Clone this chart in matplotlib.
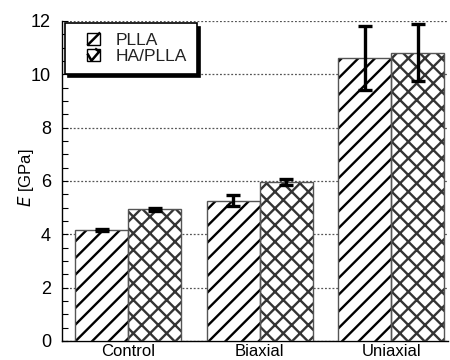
import matplotlib
matplotlib.use("Agg")
import matplotlib.pyplot as plt
from matplotlib.patches import Patch, Rectangle
from matplotlib.lines import Line2D
from matplotlib.legend_handler import HandlerBase
import numpy as np

categories = ["Control", "Biaxial", "Uniaxial"]
series_names = ["PLLA", "HA/PLLA"]
pla_values = [4.16, 5.26, 10.6]
pla_errors = [0.05, 0.20, 1.20]
ha_values = [4.94, 5.95, 10.81]
ha_errors = [0.06, 0.12, 1.07]
y_ticks = [0, 2, 4, 6, 8, 10, 12]

plt.rcParams["font.family"] = ["Liberation Sans", "DejaVu Sans"]
plt.rcParams["hatch.linewidth"] = 1.7


class HatchSquareHandler(HandlerBase):
    """Small square key with a few hatch strokes, right-aligned in its box."""

    def __init__(self, segments):
        super().__init__()
        self.segments = segments

    def create_artists(self, legend, orig_handle, xdescent, ydescent,
                       width, height, fontsize, trans):
        s = height * 1.05
        x0 = width - s - xdescent
        y0 = -ydescent + (height - s) / 2
        artists = [Rectangle((x0, y0), s, s, fill=False, edgecolor="black",
                             linewidth=1.0, transform=trans)]
        for seg in self.segments:
            xs = [x0 + s * px for px, _ in seg]
            ys = [y0 + s * py for _, py in seg]
            artists.append(Line2D(xs, ys, color="black", linewidth=1.8,
                                  solid_capstyle="butt", transform=trans))
        return artists


fig = plt.figure(figsize=(4.5, 3.6), dpi=100)
ax = fig.add_axes([0.138, 0.053, 0.858, 0.889])

x = np.arange(len(categories))
w = 0.403
offsets = [-w / 2, w / 2]
hatches = ["//", "xx"]
hatch_colors = ["black", "#333333"]
vals = [pla_values, ha_values]
errs = [pla_errors, ha_errors]

for off, h, hc, v, e in zip(offsets, hatches, hatch_colors, vals, errs):
    ax.bar(x + off, v, w, facecolor="white", edgecolor=hc, hatch=h,
           linewidth=0, zorder=3)
    ax.bar(x + off, v, w, fill=False, edgecolor="#555555", linewidth=1.0,
           zorder=4)
    ax.errorbar(x + off, v, yerr=e, fmt="none", ecolor="black",
                elinewidth=2.4, capsize=5, capthick=2.4, zorder=5)

ax.set_xlim(-0.502, 2.433)
ax.set_ylim(0, 12)
ax.set_yticks(y_ticks)
ax.set_yticks(np.arange(0, 12.01, 0.5), minor=True)
ax.set_xticks(x)
ax.set_xticklabels(categories, fontsize=12)
ax.tick_params(axis="x", length=0, pad=2.5)
ax.tick_params(axis="y", which="both", direction="in", length=4,
               width=0.8, labelsize=13, pad=8)
ax.yaxis.grid(True, which="major", linestyle=(0, (1.5, 1.5)),
              color="#555555", linewidth=0.9, zorder=0)
ax.set_axisbelow(True)
for s in ["top", "right"]:
    ax.spines[s].set_visible(False)
ax.spines["left"].set_linewidth(1.0)
ax.spines["bottom"].set_linewidth(1.0)

ax.set_ylabel(r"$\it{E}$ [GPa]", fontsize=12)
ax.yaxis.set_label_coords(-0.068, 0.51)

pla_key = Patch(facecolor="white", edgecolor="black", hatch="/")
ha_key = Patch(facecolor="white", edgecolor="black", hatch="x")
handler_map = {
    pla_key: HatchSquareHandler([[(0.0, 0.0), (1.0, 1.0)]]),
    ha_key: HatchSquareHandler([[(0.0, 0.6), (0.32, 0.05), (1.0, 0.85)],
                                [(0.6, 1.0), (1.0, 0.7)]]),
}
leg = ax.legend([pla_key, ha_key], series_names, handler_map=handler_map,
                loc="upper left", fontsize=12.5, frameon=True,
                fancybox=False,
                shadow={"color": "black", "alpha": 1, "ox": 2.5, "oy": -2.5},
                handlelength=1.5, handleheight=0.7, handletextpad=0.9,
                labelspacing=0.05, borderpad=0.55, borderaxespad=0.1,
                bbox_to_anchor=(0.002, 0.998))
leg.get_frame().set_edgecolor("black")
leg.get_frame().set_linewidth(1.2)
for t in leg.get_texts():
    t.set_color("#222222")
leg.set_zorder(10)

fig.savefig("out.png", dpi=100)
